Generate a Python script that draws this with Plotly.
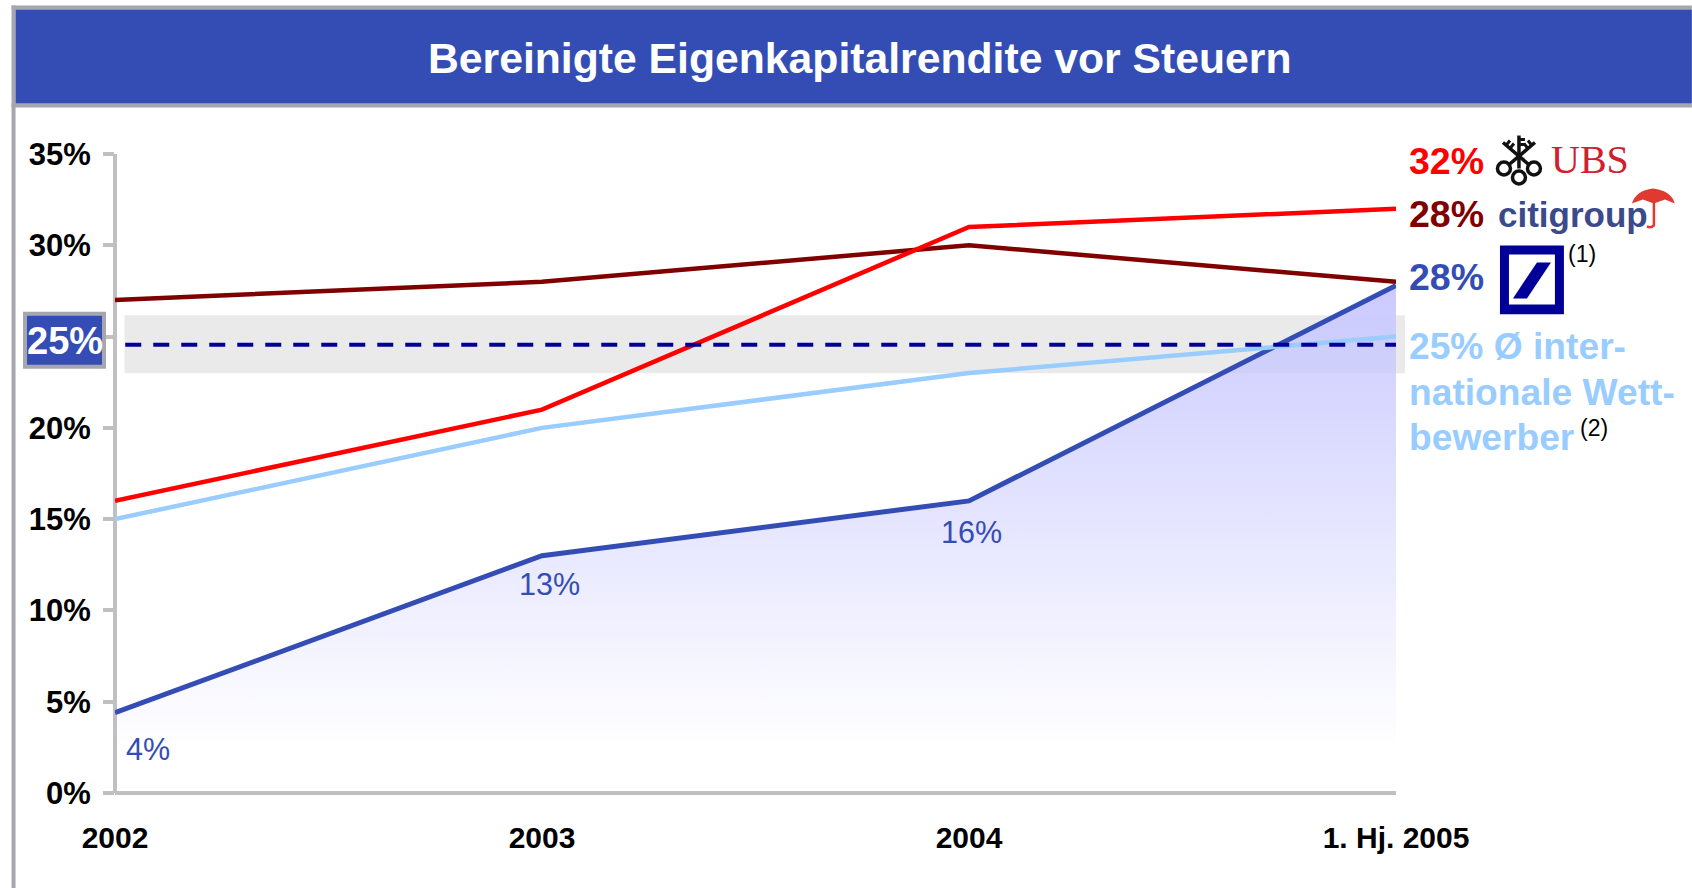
import plotly.graph_objects as go

W, H = 1692, 888
L, R, T, B = 114.5, 1396.0, 153.5, 793.0

periods = [0, 1, 2, 3]
period_labels = ["2002", "2003", "2004", "1. Hj. 2005"]
ubs = [16, 21, 31, 32]
citi = [27, 28, 30, 28]
intl = [15, 20, 23, 25]
db = [4.4, 13, 16, 27.8]
y_ticks = [0, 5, 10, 15, 20, 25, 30, 35]
y_labels = ["0%", "5%", "10%", "15%", "20%", "", "30%", "35%"]
target = 24.55
band = [22.96, 26.13]

BLUE = "#344DB5"
RED = "#FF0000"
MAROON = "#800000"
LIGHT = "#99CCFF"
NAVY = "#000099"
GREY = "#A6A6AE"
AXIS = "#C0C0C0"
FONT = "Liberation Sans"


def px(x):
    return (x - L) / (R - L)


def py(y):
    return (B - y) / (B - T)


def rect(x0, y0, x1, y1, fill, line=None, lw=0, layer="below"):
    return dict(type="rect", xref="paper", yref="paper", x0=px(x0), x1=px(x1), y0=py(y0), y1=py(y1),
                fillcolor=fill, line=dict(color=line or fill, width=lw), layer=layer)


def path(d, fill=None, line=None, lw=0):
    out = []
    for tok in d:
        if isinstance(tok, str):
            out.append(tok)
        else:
            out.append(f"{px(tok[0]):.5f},{py(tok[1]):.5f}")
    s = dict(type="path", xref="paper", yref="paper", path=" ".join(out), layer="above",
             line=dict(color=line or "rgba(0,0,0,0)", width=lw))
    if fill:
        s["fillcolor"] = fill
    return s


def circle(cx, cy, r, line, lw):
    return dict(type="circle", xref="paper", yref="paper", x0=px(cx - r), x1=px(cx + r), y0=py(cy + r), y1=py(cy - r),
                line=dict(color=line, width=lw), fillcolor="rgba(0,0,0,0)", layer="above")


def txt(x, y, text, size, color, bold=True, anchor="left", family=FONT):
    t = f"<b>{text}</b>" if bold else text
    return dict(xref="paper", yref="paper", x=px(x), y=py(y), text=t, showarrow=False, xanchor=anchor, yanchor="middle",
                font=dict(family=family, size=size, color=color), borderpad=0)


fig = go.Figure()
fig.add_trace(go.Scatter(
    x=periods, y=db, mode="lines", line=dict(color=BLUE, width=5), fill="tozeroy",
    fillgradient=dict(type="vertical", start=27.8, stop=2.5,
                      colorscale=[[0, "rgba(202,202,255,1)"], [1, "rgba(202,202,255,0)"]]),
    cliponaxis=False, hoverinfo="skip"))
for vals, col in [(intl, LIGHT), (citi, MAROON), (ubs, RED)]:
    fig.add_trace(go.Scatter(x=periods, y=vals, mode="lines", line=dict(color=col, width=4.5), cliponaxis=False, hoverinfo="skip"))
fig.add_trace(go.Scatter(x=[0.024, 3.016], y=[target, target], mode="lines",
                         line=dict(color=NAVY, width=4, dash="16px,12px"), cliponaxis=False, hoverinfo="skip"))

KEY = "#111111"
shapes = [
    rect(11, 5, 15, H, GREY),
    rect(11, 5, W, 9, GREY),
    rect(11, 103, W, 107, GREY),
    rect(15, 9, W, 103, BLUE),
    rect(124, 315, 1405, 373, "#EAEAEA"),
    dict(type="line", xref="paper", yref="paper", x0=0, x1=1, y0=0, y1=0, line=dict(color=AXIS, width=4), layer="below"),
    dict(type="line", xref="paper", yref="paper", x0=0, x1=0, y0=0, y1=1, line=dict(color=AXIS, width=4), layer="below"),
    rect(24.5, 313.5, 103.5, 366.5, BLUE, GREY, 4, "above"),
    # Deutsche Bank logo
    rect(1500, 245, 1564, 314, NAVY, layer="above"),
    rect(1509, 254, 1555, 304, "#FFFFFF", layer="above"),
    path(["M", (1513, 298), "L", (1527, 298), "L", (1551, 262), "L", (1537, 262), "Z"], fill=NAVY),
    # Citigroup umbrella
    path(["M", (1632, 203), "Q", (1636, 190), (1653, 188), "Q", (1671, 190), (1675, 203), "L", (1665, 199), "L", (1654, 203),
          "L", (1643, 199), "Z"], fill="#E03A30"),
    path(["M", (1654, 200), "L", (1654, 225), "Q", (1651, 228), (1647, 226)], line="#E03A30", lw=2.5),
    # UBS keys
    path(["M", (1519, 135), "L", (1519, 168)], line=KEY, lw=3.5),
    path(["M", (1503, 142), "L", (1530, 165)], line=KEY, lw=3.5),
    path(["M", (1535, 142), "L", (1508, 165)], line=KEY, lw=3.5),
    path(["M", (1519, 139), "L", (1525, 139), "M", (1519, 144), "L", (1525, 144)], line=KEY, lw=3),
    path(["M", (1506, 145), "L", (1510, 140), "M", (1510, 148), "L", (1514, 143)], line=KEY, lw=3),
    path(["M", (1532, 145), "L", (1528, 140), "M", (1528, 148), "L", (1524, 143)], line=KEY, lw=3),
    circle(1519, 177, 6.5, KEY, 3.5),
    circle(1534, 168, 6.5, KEY, 3.5),
    circle(1504, 168, 6.5, KEY, 3.5),
]

annotations = [
    txt(859.5, 57, "Bereinigte Eigenkapitalrendite vor Steuern", 42.7, "#FFFFFF", anchor="center"),
    txt(64, 341, "25%", 38, "#FFFFFF", anchor="center"),
    txt(147.5, 749, "4%", 30.5, BLUE, bold=False, anchor="center"),
    txt(549, 584, "13%", 30.5, BLUE, bold=False, anchor="center"),
    txt(971, 532, "16%", 30.5, BLUE, bold=False, anchor="center"),
    txt(1408, 161, "32%", 37.5, RED),
    txt(1408, 214, "28%", 37.5, MAROON),
    txt(1408, 277, "28%", 37.5, BLUE),
    txt(1408, 346, "25% Ø inter-", 37.2, LIGHT),
    txt(1408, 392, "nationale Wett-", 37.2, LIGHT),
    txt(1408, 437, "bewerber", 37.2, LIGHT),
    txt(1567, 254, "(1)", 23, "#000000", bold=False),
    txt(1579, 428, "(2)", 23, "#000000", bold=False),
    txt(1550, 159, "UBS", 40, "#D0202E", bold=False, family="Liberation Serif"),
    txt(1497, 214, "citigroup", 35, "#3A4A8A"),
]

fig.update_layout(
    width=W, height=H, autosize=False,
    margin=dict(l=L, r=W - R, t=T, b=H - B, pad=0),
    paper_bgcolor="#FFFFFF", plot_bgcolor="rgba(0,0,0,0)", showlegend=False,
    shapes=shapes, annotations=annotations,
    xaxis=dict(range=[0, 3], tickvals=periods, ticktext=[f"<b>{s}</b>" for s in period_labels], showgrid=False, zeroline=False,
               showline=False, ticks="", ticklabelstandoff=24,
               tickfont=dict(family=FONT, size=30, color="#000000")),
    yaxis=dict(range=[0, 35], tickvals=y_ticks, ticktext=[f"<b>{s}</b>" if s else "" for s in y_labels], showgrid=False, zeroline=False,
               showline=False, ticks="outside", ticklen=11, tickwidth=3.5, tickcolor=AXIS,
               ticklabelstandoff=6, tickfont=dict(family=FONT, size=31, color="#000000")),
)

fig.write_html("out.html", config={"displayModeBar": False},
               post_script="document.body.style.margin='0';document.documentElement.style.overflow='hidden';")
